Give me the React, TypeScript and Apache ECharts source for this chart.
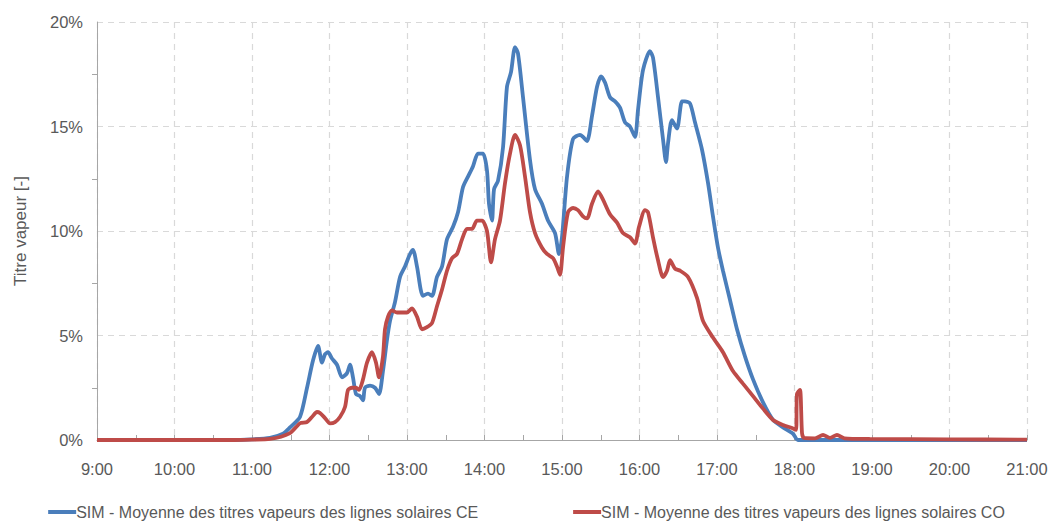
import React, { useEffect, useRef } from "react";
import * as echarts from "echarts";

const xTicks = ["9:00","10:00","11:00","12:00","13:00","14:00","15:00","16:00","17:00","18:00","19:00","20:00","21:00"];
const yTicks = ["0%","5%","10%","15%","20%"];

const seriesNames = [
  "SIM - Moyenne des titres vapeurs des lignes solaires CE",
  "SIM - Moyenne des titres vapeurs des lignes solaires CO",
];

// heures décimales et titres vapeur (%) - CE
const ceHours = [
  9.0, 10.716, 11.0, 11.232, 11.40, 11.490, 11.619, 11.710, 11.787, 11.852, 11.903, 11.942, 11.981,
  12.032, 12.097, 12.161, 12.226, 12.265, 12.303, 12.342, 12.394, 12.432, 12.458, 12.523, 12.587,
  12.639, 12.690, 12.742, 12.781, 12.845, 12.910, 12.974, 13.039, 13.077, 13.129, 13.206, 13.271,
  13.323, 13.387, 13.452, 13.516, 13.594, 13.658, 13.723, 13.787, 13.852, 13.916, 13.981, 14.032,
  14.058, 14.097, 14.123, 14.174, 14.239, 14.290, 14.342, 14.394, 14.432, 14.497, 14.587, 14.652,
  14.742, 14.819, 14.910, 14.961, 15.0, 15.065, 15.142, 15.232, 15.271, 15.323, 15.387, 15.452,
  15.503, 15.555, 15.619, 15.684, 15.748, 15.813, 15.877, 15.942, 15.981, 16.045, 16.135, 16.174,
  16.239, 16.303, 16.342, 16.368, 16.419, 16.484, 16.548, 16.587, 16.652, 16.716, 16.806, 16.884,
  16.948, 17.013, 17.077, 17.168, 17.258, 17.361, 17.465, 17.594, 17.723, 17.852, 17.981, 18.045,
  19.0, 20.0, 21.0,
];
const ceValues = [
  0, 0, 0.03, 0.1, 0.3, 0.6, 1.1, 2.5, 3.8, 4.5, 3.7, 4.1, 4.2,
  3.9, 3.6, 3.0, 3.2, 3.6, 3.0, 2.2, 2.1, 1.9, 2.5, 2.6, 2.5,
  2.2, 3.3, 4.8, 5.7, 6.6, 7.8, 8.3, 8.9, 9.1, 8.3, 6.9, 7.0,
  6.9, 7.8, 8.3, 9.6, 10.2, 10.9, 12.1, 12.6, 13.1, 13.7, 13.7, 12.9,
  11.3, 10.5, 12.0, 12.4, 14.0, 16.9, 17.6, 18.8, 18.5, 16.4, 13.4, 12.0,
  11.3, 10.5, 9.9, 8.9, 9.7, 12.6, 14.4, 14.6, 14.5, 14.3, 15.5, 16.9,
  17.4, 17.1, 16.4, 16.2, 15.9, 15.2, 15.0, 14.5, 15.8, 17.7, 18.6, 18.3,
  16.4, 14.4, 13.3, 14.2, 15.3, 14.9, 16.2, 16.2, 16.1, 15.2, 13.9, 12.3,
  10.7, 9.2, 8.1, 6.7, 5.3, 4.0, 2.9, 1.8, 0.96, 0.6, 0.3, 0,
  0, 0, 0,
];

// heures décimales et titres vapeur (%) - CO
const coHours = [
  9.0, 10.716, 11.0, 11.232, 11.490, 11.619, 11.710, 11.774, 11.839, 11.877, 11.942, 12.006,
  12.071, 12.135, 12.2, 12.239, 12.290, 12.342, 12.381, 12.432, 12.484, 12.548, 12.6, 12.639,
  12.690, 12.716, 12.755, 12.806, 12.871, 12.935, 13.0, 13.065, 13.129, 13.194, 13.258, 13.323,
  13.387, 13.452, 13.516, 13.581, 13.645, 13.710, 13.774, 13.839, 13.903, 13.968, 14.032, 14.084,
  14.135, 14.2, 14.265, 14.329, 14.394, 14.458, 14.523, 14.587, 14.652, 14.742, 14.806, 14.884,
  14.935, 14.974, 15.013, 15.077, 15.142, 15.206, 15.271, 15.323, 15.387, 15.465, 15.529, 15.619,
  15.710, 15.787, 15.877, 15.942, 15.994, 16.071, 16.110, 16.174, 16.239, 16.303, 16.355, 16.394,
  16.458, 16.523, 16.626, 16.742, 16.819, 16.948, 17.077, 17.206, 17.335, 17.465, 17.594, 17.723,
  17.852, 17.968, 18.019, 18.032, 18.071, 18.097, 18.123, 18.265, 18.368, 18.458, 18.548, 18.645,
  18.97, 20.0, 21.0,
];
const coValues = [
  0, 0, 0.02, 0.05, 0.33, 0.8, 0.86, 1.1, 1.34, 1.29, 1.05, 0.8,
  0.86, 1.1, 1.58, 2.4, 2.5, 2.5, 2.4, 2.9, 3.7, 4.2, 3.7, 3.0,
  4.0, 5.3, 5.9, 6.2, 6.1, 6.1, 6.1, 6.3, 5.9, 5.3, 5.4, 5.6,
  6.4, 7.2, 8.1, 8.7, 8.9, 9.6, 10.1, 10.1, 10.5, 10.5, 10.0, 8.5,
  9.6, 10.5, 12.3, 13.7, 14.6, 14.1, 12.6, 10.9, 9.9, 9.2, 8.9, 8.7,
  8.3, 7.9, 9.2, 10.9, 11.1, 11.0, 10.7, 10.6, 11.3, 11.9, 11.5, 10.8,
  10.4, 9.9, 9.7, 9.4, 10.2, 11.0, 10.9, 9.7, 8.6, 7.8, 8.1, 8.6,
  8.2, 8.1, 7.8, 6.8, 5.7, 4.9, 4.2, 3.3, 2.7, 2.1, 1.5, 0.96,
  0.72, 0.57, 0.48, 2.2, 2.4, 0.33, 0.1, 0.08, 0.24, 0.1, 0.24, 0.08,
  0.05, 0.03, 0.02,
];

const FONT = "Liberation Sans";
const TEXT = "#595959";

export default function App() {
  const ref = useRef<HTMLDivElement>(null);
  useEffect(() => {
    if (!ref.current) return;
    const chart = echarts.init(ref.current, undefined, { renderer: "svg" });
    const toPairs = (xs: number[], ys: number[]) => xs.map((x, i) => [x, ys[i]]);
    chart.setOption({
      animation: false,
      backgroundColor: "#ffffff",
      textStyle: { fontFamily: FONT, color: TEXT },
      grid: { left: 97, right: 26, top: 22, bottom: 85 },
      legend: {
        bottom: 0,
        left: "center",
        itemWidth: 28,
        itemHeight: 4,
        itemGap: 95,
        icon: "rect",
        textStyle: { fontFamily: FONT, fontSize: 16, color: TEXT, padding: [0, 0, 0, -5] },
        data: seriesNames,
      },
      xAxis: {
        type: "value",
        min: 9,
        max: 21,
        interval: 1,
        axisLine: { show: true, lineStyle: { color: "#a6a6a6", width: 1 } },
        axisTick: { show: true, inside: true, length: 5, lineStyle: { color: "#a6a6a6" } },
        minorTick: { show: true, splitNumber: 2, length: 5, lineStyle: { color: "#a6a6a6" } },
        axisLabel: {
          fontFamily: FONT,
          fontSize: 16.5,
          color: TEXT,
          margin: 20,
          formatter: (v: number) => xTicks[Math.round(v - 9)] ?? "",
        },
        splitLine: { show: true, lineStyle: { color: "#d9d9d9", type: [6, 5], width: 1.2 } },
      },
      yAxis: {
        type: "value",
        min: 0,
        max: 20,
        interval: 5,
        name: "Titre vapeur [-]",
        nameLocation: "middle",
        nameGap: 68,
        nameTextStyle: { fontFamily: FONT, fontSize: 17, color: TEXT },
        axisLine: { show: true, lineStyle: { color: "#a6a6a6", width: 1 } },
        axisTick: { show: false },
        minorTick: { show: true, splitNumber: 2, length: 5, lineStyle: { color: "#a6a6a6" } },
        axisLabel: {
          fontFamily: FONT,
          fontSize: 16.5,
          color: TEXT,
          margin: 14,
          formatter: (v: number) => yTicks[Math.round(v / 5)] ?? "",
        },
        splitLine: { show: true, lineStyle: { color: "#d9d9d9", type: [6, 5], width: 1.2 } },
      },
      series: [
        {
          name: seriesNames[0],
          type: "line",
          data: toPairs(ceHours, ceValues),
          symbol: "none",
          smooth: 0.25,
          color: "#4a7ebb",
          lineStyle: { width: 3.8, color: "#4a7ebb" },
          z: 2,
        },
        {
          name: seriesNames[1],
          type: "line",
          data: toPairs(coHours, coValues),
          symbol: "none",
          smooth: 0.25,
          color: "#be4b48",
          lineStyle: { width: 3.8, color: "#be4b48" },
          z: 3,
        },
      ],
    });
    return () => chart.dispose();
  }, []);
  return <div ref={ref} style={{ width: 1053, height: 525, position: "absolute", left: 0, top: 0 }} />;
}
